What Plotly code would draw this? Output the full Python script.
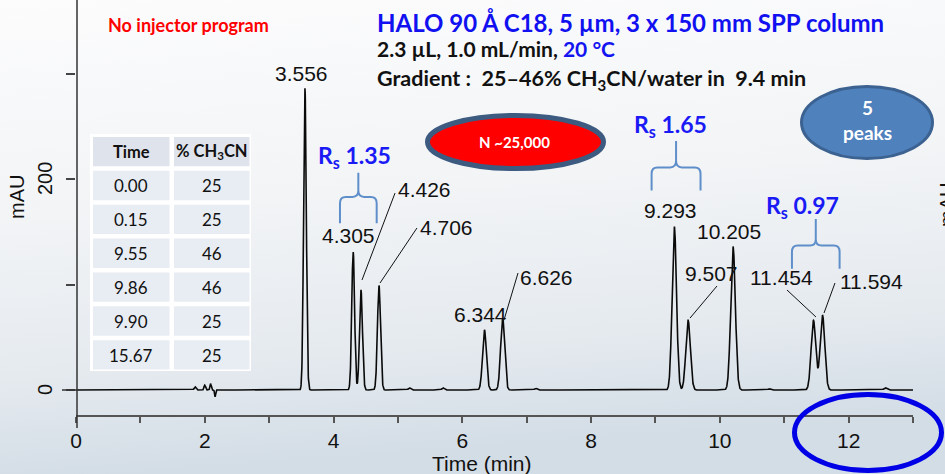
import base64
import numpy as np
import plotly.graph_objects as go

# ---- chromatogram peaks: retention time (min), apex height (mAU), width sigma (min)
peak_times = [3.556, 4.305, 4.426, 4.706, 6.344, 6.626, 9.293, 9.507, 10.205, 11.454, 11.594]
peak_heights = [286, 131, 95, 99, 57, 68, 155, 66, 136, 66, 71]
peak_sigmas = [0.021, 0.022, 0.023, 0.024, 0.030, 0.031, 0.034, 0.035, 0.036, 0.036, 0.036]

# small baseline features: injection disturbance and minor bumps
minor_times = [1.85, 2.00, 2.09, 2.16, 5.18, 5.70, 7.14, 10.77, 12.57]
minor_heights = [3.0, 4.5, 6.0, -6.5, 2.0, 2.0, 1.5, 1.2, 2.0]
minor_sigmas = [0.015, 0.012, 0.010, 0.008, 0.020, 0.020, 0.020, 0.020, 0.025]

# label positions (time, mAU) for each retention-time label
label_pos = [(3.495, 300.5), (4.24, 146), (5.42, 190.5), (5.747, 154.5), (6.275, 72),
             (7.30, 107), (9.241, 169.7), (9.863, 110), (10.142, 149.8), (10.965, 107),
             (12.348, 103)]
# leader lines (from, to) in (time, mAU)
leaders = [((4.442, 104.3), (4.955, 186.7)),
           ((4.722, 101.4), (5.296, 153.6)),
           ((6.648, 66.4), (6.865, 110.9)),
           ((9.537, 68.2), (9.956, 98.6)),
           ((11.043, 94.8), (11.493, 69.2)),
           ((11.788, 101.4), (11.618, 73.0))]

# resolution callouts
rs_values = ["1.35", "1.65", "0.97"]
rs_text_pos = [(4.333, 220.9), (9.226, 251), (11.29, 174)]
# brace geometry: left, right, arm bottom, bar level, spike top
rs_braces = [(4.10, 4.67, 158, 183, 206), (8.94, 9.70, 189, 211, 236), (11.12, 11.86, 115, 137, 162)]

# gradient program table
grad_time = ["0.00", "0.15", "9.55", "9.86", "9.90", "15.67"]
grad_pct = ["25", "25", "46", "46", "25", "25"]

x_major = [0, 2, 4, 6, 8, 10, 12]
x_minor = [1, 3, 5, 7, 9, 11, 13]
y_major = [0, 200]
y_minor = [100, 300]

# ---- figure geometry
W, H = 945, 474
ML, MR, MT, MB = 76, 32, 0, 59
PW, PH = W - ML - MR, H - MT - MB


def xp(px):
    return (px - ML) / PW


def yp(py):
    return (H - MB - py) / PH


t = np.linspace(0, 13, 6501)
signal = np.zeros_like(t)
for t0, h, s in zip(peak_times + minor_times, peak_heights + minor_heights, peak_sigmas + minor_sigmas):
    signal += h * np.exp(-0.5 * ((t - t0) / s) ** 2)

fig = go.Figure()
fig.add_trace(go.Scatter(x=t, y=signal, mode="lines", line=dict(color="#0a0a0a", width=1.6),
                         hoverinfo="skip", showlegend=False))

shapes = []
annotations = []

# y axis line (runs a little below the time axis) and long zero tick
shapes.append(dict(type="line", xref="paper", yref="paper", x0=xp(77), x1=xp(77), y0=yp(428), y1=1.0,
                   line=dict(color="#333333", width=1.5)))
shapes.append(dict(type="line", xref="paper", yref="y", x0=xp(62), x1=xp(77), y0=0, y1=0,
                   line=dict(color="#333333", width=1.5)))
# rotated y tick labels
for v in y_major:
    annotations.append(dict(x=xp(45), y=v, xref="paper", yref="y", text=str(v), textangle=-90,
                            showarrow=False, font=dict(family="Liberation Sans", size=20, color="#111111"),
                            xanchor="center", yanchor="middle"))

# peak labels and leader lines
for (lx, ly), rt in zip(label_pos, peak_times):
    annotations.append(dict(x=lx, y=ly, xref="x", yref="y", text=f"{rt:.3f}", showarrow=False,
                            font=dict(family="Liberation Sans", size=21, color="#111111"),
                            xanchor="center", yanchor="middle"))
for (a, b) in leaders:
    shapes.append(dict(type="line", xref="x", yref="y", x0=a[0], y0=a[1], x1=b[0], y1=b[1],
                       line=dict(color="#111111", width=1)))

# resolution braces and values
for (xl, xr, yb, yh, yt), (tx, ty), rs in zip(rs_braces, rs_text_pos, rs_values):
    xc = (xl + xr) / 2
    rx, ry = 0.09, 6
    path = (f"M {xl},{yb} L {xl},{yh - ry} Q {xl},{yh} {xl + rx},{yh} L {xc - rx},{yh} "
            f"Q {xc},{yh} {xc},{yh + ry} L {xc},{yt} "
            f"M {xc},{yh + ry} Q {xc},{yh} {xc + rx},{yh} L {xr - rx},{yh} "
            f"Q {xr},{yh} {xr},{yh - ry} L {xr},{yb}")
    shapes.append(dict(type="path", xref="x", yref="y", path=path,
                       line=dict(color="#5f8fca", width=2)))
    annotations.append(dict(x=tx, y=ty, xref="x", yref="y", text=f"<b>R<sub>s</sub> {rs}</b>",
                            showarrow=False, font=dict(family="Lato", size=23, color="#1a1af5"),
                            xanchor="center", yanchor="middle"))

# gradient table
tbl_l, tbl_r, tbl_split, tbl_t, tbl_b = 90, 251, 171, 134, 371
n_rows = len(grad_time) + 1
row_h = (tbl_b - tbl_t) / n_rows
shapes.append(dict(type="rect", xref="paper", yref="paper", x0=xp(tbl_l), x1=xp(tbl_r),
                   y0=yp(tbl_b), y1=yp(tbl_t), fillcolor="#ffffff", line=dict(width=0), layer="above"))
header = ["<b>Time</b>", "<b>% CH<sub>3</sub>CN</b>"]
for r in range(n_rows):
    top = tbl_t + r * row_h
    bot = top + row_h
    fill = "#dfe4ec" if r == 0 else "#e8ecf3"
    for (c0, c1) in [(tbl_l, tbl_split), (tbl_split, tbl_r)]:
        shapes.append(dict(type="rect", xref="paper", yref="paper", x0=xp(c0 + 3), x1=xp(c1 - 1.5),
                           y0=yp(bot - 1.5), y1=yp(top + 3), fillcolor=fill, line=dict(width=0),
                           layer="above"))
    cells = header if r == 0 else [grad_time[r - 1], grad_pct[r - 1]]
    for (c0, c1), txt in zip([(tbl_l, tbl_split), (tbl_split, tbl_r)], cells):
        annotations.append(dict(x=xp((c0 + c1) / 2 + 0.7), y=yp((top + bot) / 2 + 1), xref="paper",
                                yref="paper", text=txt, showarrow=False,
                                font=dict(family="Lato", size=17 if r else 16.5, color="#111111"),
                                xanchor="center", yanchor="middle"))

# header texts
annotations.append(dict(x=xp(188), y=yp(25), xref="paper", yref="paper",
                        text="<b>No injector program</b>", showarrow=False,
                        font=dict(family="Lato", size=18, color="#ff0000"),
                        xanchor="center", yanchor="middle"))
annotations.append(dict(x=xp(375), y=yp(22), xref="paper", yref="paper",
                        text="<b>HALO 90 Å C18, 5 µm, 3 x 150 mm SPP column</b>", showarrow=False,
                        font=dict(family="Lato", size=24, color="#1010f0"),
                        xanchor="left", yanchor="middle"))
annotations.append(dict(x=xp(375), y=yp(48), xref="paper", yref="paper",
                        text="<b>2.3 µL, 1.0 mL/min, <span style='color:#1414f0'>20 °C</span></b>",
                        showarrow=False, font=dict(family="Lato", size=21, color="#111111"),
                        xanchor="left", yanchor="middle"))
annotations.append(dict(x=xp(375), y=yp(80), xref="paper", yref="paper",
                        text="<b>Gradient :  25–46% CH<sub>3</sub>CN/water in  9.4 min</b>",
                        showarrow=False, font=dict(family="Lato", size=21.5, color="#111111"),
                        xanchor="left", yanchor="middle"))

# callout ellipses
shapes.append(dict(type="circle", xref="paper", yref="paper", x0=xp(427.5), x1=xp(603.5),
                   y0=yp(168.5), y1=yp(115.5), fillcolor="#ff0000", line=dict(color="#3d5a80", width=5)))
annotations.append(dict(x=xp(514), y=yp(142), xref="paper", yref="paper", text="<b>N ~25,000</b>",
                        showarrow=False, font=dict(family="Lato", size=15, color="#ffffff"),
                        xanchor="center", yanchor="middle"))
shapes.append(dict(type="circle", xref="paper", yref="paper", x0=xp(801.5), x1=xp(932.5),
                   y0=yp(158.5), y1=yp(86.5), fillcolor="#4f81bd", line=dict(color="#3b6290", width=3)))
annotations.append(dict(x=xp(867), y=yp(120), xref="paper", yref="paper", text="<b>5<br>peaks</b>",
                        showarrow=False, font=dict(family="Lato", size=19, color="#ffffff"),
                        xanchor="center", yanchor="middle"))
shapes.append(dict(type="circle", xref="paper", yref="paper", x0=xp(794.5), x1=xp(941.5),
                   y0=yp(470.5), y1=yp(394.5), line=dict(color="#0000e6", width=5)))

# axis titles
annotations.append(dict(x=xp(482), y=yp(463), xref="paper", yref="paper", text="Time (min)",
                        showarrow=False, font=dict(family="Liberation Sans", size=21, color="#111111"),
                        xanchor="center", yanchor="middle"))
annotations.append(dict(x=xp(17), y=yp(197), xref="paper", yref="paper", text="mAU", textangle=-90,
                        showarrow=False, font=dict(family="Liberation Sans", size=20, color="#111111"),
                        xanchor="center", yanchor="middle"))
annotations.append(dict(x=xp(947), y=yp(205), xref="paper", yref="paper", text="mAU", textangle=-90,
                        showarrow=False, font=dict(family="Liberation Sans", size=20, color="#111111"),
                        xanchor="center", yanchor="middle"))

# soft slide background
svg = f'''<svg xmlns="http://www.w3.org/2000/svg" width="{W}" height="{H}" preserveAspectRatio="none">
<defs><linearGradient id="g" x1="0" y1="0" x2="0.15" y2="1">
<stop offset="0" stop-color="#fcfcfd"/><stop offset="0.45" stop-color="#f2f4f6"/>
<stop offset="0.78" stop-color="#e5eaef"/><stop offset="1" stop-color="#d3dde6"/>
</linearGradient></defs><rect width="{W}" height="{H}" fill="url(#g)"/></svg>'''
bg_src = "data:image/svg+xml;base64," + base64.b64encode(svg.encode()).decode()

fig.update_layout(
    width=W, height=H,
    margin=dict(l=ML, r=MR, t=MT, b=MB, pad=0),
    paper_bgcolor="#ffffff", plot_bgcolor="rgba(0,0,0,0)",
    font=dict(family="Liberation Sans", color="#111111"),
    showlegend=False,
    images=[dict(source=bg_src, xref="paper", yref="paper", x=-ML / PW, y=1 + MT / PH,
                 sizex=W / PW, sizey=H / PH, sizing="stretch", xanchor="left", yanchor="top",
                 layer="below")],
    shapes=shapes, annotations=annotations,
    xaxis=dict(range=[0, 13], showgrid=False, zeroline=False, showline=True, linecolor="#555555",
               linewidth=1.5, ticks="outside", ticklen=6, tickcolor="#555555", tickwidth=1.5,
               tickvals=x_major, ticklabelstandoff=0,
               tickfont=dict(family="Liberation Sans", size=21, color="#111111"),
               minor=dict(tickvals=x_minor, ticks="outside", ticklen=6, tickcolor="#555555",
                          tickwidth=1.5, showgrid=False)),
    yaxis=dict(range=[-23.7, 369.7], showgrid=False, zeroline=False, showline=False,
               ticks="outside", ticklen=9, tickcolor="#444444", tickwidth=1.5,
               tickvals=y_major, showticklabels=False,
               minor=dict(tickvals=y_minor, ticks="outside", ticklen=9, tickcolor="#444444",
                          tickwidth=1.5, showgrid=False)),
)

fig.write_html("out.html")
